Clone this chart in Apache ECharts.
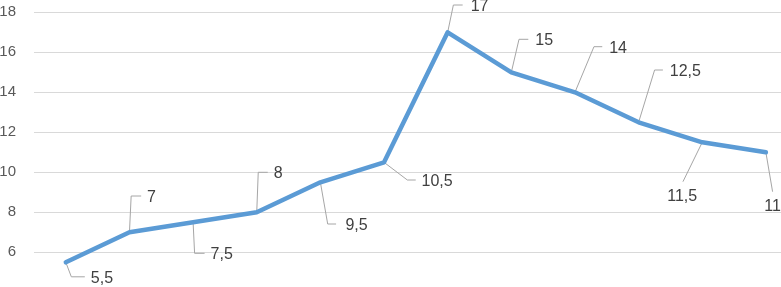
<!DOCTYPE html>
<html>
<head>
<meta charset="utf-8">
<script src="https://cdn.jsdelivr.net/npm/echarts@6/dist/echarts.min.js"></script>
<style>
html,body{margin:0;padding:0;background:#fff;}
#chart{width:781px;height:287px;}
</style>
</head>
<body>
<div id="chart"></div>
<script>
// ---- data ----
const categories = ['1','2','3','4','5','6','7','8','9','10','11','12'];
const values = [5.5, 7, 7.5, 8, 9.5, 10.5, 17, 15, 14, 12.5, 11.5, 11];
const yMin = 4, yMax = 18, yStep = 2;

// ---- label callout layout (styling, relative offsets in px) ----
// [elbowDx, elbowDy, endDx, textDx, textDy, align]
const callouts = [
  [5.5, 14.5, 19, 25, 16, 'left'],
  [1.7, -36.3, 11.7, 17.5, -34.8, 'left'],
  [1.5, 31, 11.5, 17.5, 32.5, 'left'],
  [1.5, -40, 11, 17, -38.5, 'left'],
  [7.3, 41.7, 15.7, 25, 43.2, 'left'],
  [23.3, 17.7, 31.7, 37.5, 19.2, 'left'],
  [5.7, -27.3, 15, 23, -26, 'left'],
  [7.7, -33, 17, 24, -31.3, 'left'],
  [19, -45.6, 27.3, 34.2, -43.8, 'left'],
  [16, -52.3, 24.3, 31.2, -51, 'left'],
  [-19.3, 39.4, -19.3, -20, 54.7, 'center'],
  [6.7, 39.4, 6.7, 6.7, 54.2, 'center']
];

const fmt = v => String(v).replace('.', ',');

const chart = echarts.init(document.getElementById('chart'), null, {renderer: 'canvas'});
chart.setOption({
  animation: false,
  backgroundColor: '#ffffff',
  grid: {left: 34, top: 12.3, width: 763.7, height: 280, containLabel: false, outerBoundsMode: 'none'},
  xAxis: {
    type: 'category',
    data: categories,
    boundaryGap: true,
    axisLine: {show: false},
    axisTick: {show: false},
    axisLabel: {show: false},
    splitLine: {show: false}
  },
  yAxis: {
    type: 'value',
    min: yMin, max: yMax, interval: yStep,
    axisLine: {show: false},
    axisTick: {show: false},
    axisLabel: {
      margin: 18,
      color: '#595959',
      fontFamily: 'Liberation Sans',
      fontSize: 15,
      formatter: v => (v < 6 ? '' : String(v))
    },
    splitLine: {lineStyle: {color: '#d9d9d9', width: 1}}
  },
  series: [
    {
      type: 'custom',
      z: 1,
      data: values.map((v, i) => [i, v]),
      renderItem: function (params, api) {
        const i = params.dataIndex;
        const p = api.coord([api.value(0), api.value(1)]);
        const o = callouts[i];
        const ex = p[0] + o[0], ey = p[1] + o[1], hx = p[0] + o[2];
        return {
          type: 'group',
          children: [
            {
              type: 'polyline',
              shape: {points: [[p[0], p[1]], [ex, ey], [hx, ey]]},
              style: {stroke: '#a6a6a6', lineWidth: 1, fill: null}
            },
            {
              type: 'text',
              style: {
                text: fmt(values[i]),
                x: p[0] + o[3],
                y: p[1] + o[4],
                align: o[5],
                verticalAlign: 'middle',
                fontFamily: 'Liberation Sans',
                fontSize: 16,
                fill: '#404040'
              }
            }
          ]
        };
      }
    },
    {
      type: 'line',
      z: 3,
      data: values,
      showSymbol: false,
      symbol: 'none',
      lineStyle: {color: '#5b9bd5', width: 4.5, join: 'round', cap: 'round'},
      itemStyle: {color: '#5b9bd5'}
    }
  ]
});
</script>
</body>
</html>
